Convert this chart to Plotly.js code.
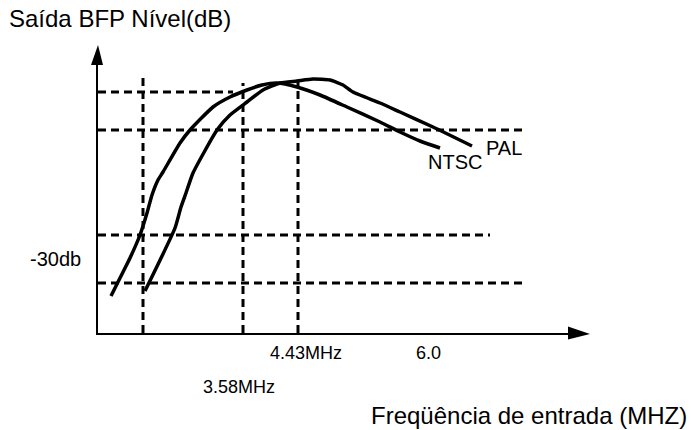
<!DOCTYPE html>
<html>
<head>
<meta charset="utf-8">
<script src="https://cdn.plot.ly/plotly-3.0.1.min.js"></script>
<style>html,body{margin:0;padding:0;background:#fff;}#chart{width:691px;height:430px;}</style>
</head>
<body>
<div id="chart"></div>
<script>
// Schematic units (x: frequency scale, y: output level)
var ntscX = [1.3, 2.2, 3.2, 4.2, 4.9, 5.4, 6.0, 6.5, 8.2, 9.2, 11.5, 13.2, 14.9, 16.4, 17.9, 19.9, 22.2, 24.9, 28.2, 30.2, 32.2, 34.2];
var ntscY = [3.7, 5.5, 7.5, 9.8, 12.0, 13.8, 15.3, 16.1, 19.0, 20.3, 22.6, 23.6, 24.3, 24.8, 25.0, 24.6, 23.8, 22.6, 21.1, 20.1, 19.2, 18.5];
var palX = [4.7, 7.7, 8.3, 8.8, 9.5, 11.9, 13.2, 14.9, 16.5, 18.2, 19.9, 21.5, 23.2, 24.5, 25.5, 28.2, 30.2, 33.5, 37.4];
var palY = [4.2, 10.5, 12.6, 14.0, 16.0, 20.3, 21.8, 23.1, 24.3, 25.0, 25.2, 25.4, 25.3, 24.8, 24.1, 23.0, 22.1, 20.6, 18.7];

// Guide lines: vertical at frequencies, horizontal at levels
var guideVX = [4.5, 14.5, 20.0];
var guideVTop = [26.0, 25.0, 25.1];
var guideHY = [24.1, 20.3, 9.8, 5.0];
var guideHEnd = [13.5, 42.9, 39.2, 42.7];

var seriesNames = ['NTSC', 'PAL'];
var tickLabels = ['3.58MHz', '4.43MHz', '6.0'];
var levelLabel = '-30db';
var titleY = 'Saída BFP Nível(dB)';
var titleX = 'Freqüência de entrada (MHZ)';

var FONT = 'Liberation Sans, Arial, Helvetica, sans-serif';

// build dashed guides
var gx = [], gy = [];
guideVX.forEach(function (x, i) { gx.push(x, x, null); gy.push(0, guideVTop[i], null); });
guideHY.forEach(function (y, i) { gx.push(0, guideHEnd[i], null); gy.push(y, y, null); });

var traces = [
  { x: gx, y: gy, mode: 'lines', line: { color: '#000', width: 3, dash: '8px,5px' }, hoverinfo: 'skip', showlegend: false },
  { x: ntscX, y: ntscY, name: seriesNames[0], mode: 'lines', line: { color: '#000', width: 3.5, shape: 'spline', smoothing: 0.5 }, showlegend: false },
  { x: palX, y: palY, name: seriesNames[1], mode: 'lines', line: { color: '#000', width: 3.5, shape: 'spline', smoothing: 0.5 }, showlegend: false }
];

var ann = [
  { xref: 'x', yref: 'y', x: ntscX[ntscX.length - 1], y: ntscY[ntscY.length - 1], xshift: 15, yshift: -14, text: seriesNames[0], showarrow: false, font: { family: FONT, size: 20, color: '#000' } },
  { xref: 'x', yref: 'y', x: palX[palX.length - 1], y: palY[palY.length - 1], xshift: 32, yshift: -2, text: seriesNames[1], showarrow: false, font: { family: FONT, size: 20, color: '#000' } },
  { xref: 'x', yref: 'y', x: guideVX[1], y: 0, xshift: -4, yshift: -54, text: tickLabels[0], showarrow: false, font: { family: FONT, size: 18, color: '#000' } },
  { xref: 'x', yref: 'y', x: guideVX[2], y: 0, xshift: 8, yshift: -20, text: tickLabels[1], showarrow: false, font: { family: FONT, size: 18, color: '#000' } },
  { xref: 'paper', yref: 'y', x: 0.727, y: 0, yshift: -20, text: tickLabels[2], showarrow: false, font: { family: FONT, size: 18, color: '#000' } },
  { xref: 'paper', yref: 'y', x: 0, y: (guideHY[2] + guideHY[3]) / 2, xshift: -15, xanchor: 'right', text: levelLabel, showarrow: false, font: { family: FONT, size: 20, color: '#000' } },
  { xref: 'paper', yref: 'paper', x: 1.246, y: 0, yshift: -82, xanchor: 'right', yanchor: 'middle', text: titleX, showarrow: false, font: { family: FONT, size: 24, color: '#000' } }
];

var layout = {
  width: 691, height: 430,
  margin: { l: 98, r: 119, t: 62, b: 97 },
  paper_bgcolor: '#fff', plot_bgcolor: '#fff',
  title: { text: titleY, xref: 'container', yref: 'container', x: 9 / 691, xanchor: 'left', y: 1 - 19 / 430, yanchor: 'middle', font: { family: FONT, size: 24, color: '#000' } },
  xaxis: { range: [0, 47.4], showgrid: false, zeroline: false, showticklabels: false, ticks: '', showline: true, linecolor: '#000', linewidth: 2, fixedrange: true },
  yaxis: { range: [0, 27.1], showgrid: false, zeroline: false, showticklabels: false, ticks: '', showline: true, linecolor: '#000', linewidth: 2, fixedrange: true },
  annotations: ann,
  shapes: [
    { type: 'path', xref: 'paper', yref: 'paper', xsizemode: 'pixel', ysizemode: 'pixel', xanchor: 0, yanchor: 1, path: 'M-7,-3L5,-3L0,17Z', fillcolor: '#000', line: { width: 0 } },
    { type: 'path', xref: 'paper', yref: 'paper', xsizemode: 'pixel', ysizemode: 'pixel', xanchor: 1, yanchor: 0, path: 'M-4,6.5L-4,-6.5L18,-1Z', fillcolor: '#000', line: { width: 0 } }
  ]
};

Plotly.newPlot('chart', traces, layout, { displayModeBar: false, staticPlot: true });
</script>
</body>
</html>
